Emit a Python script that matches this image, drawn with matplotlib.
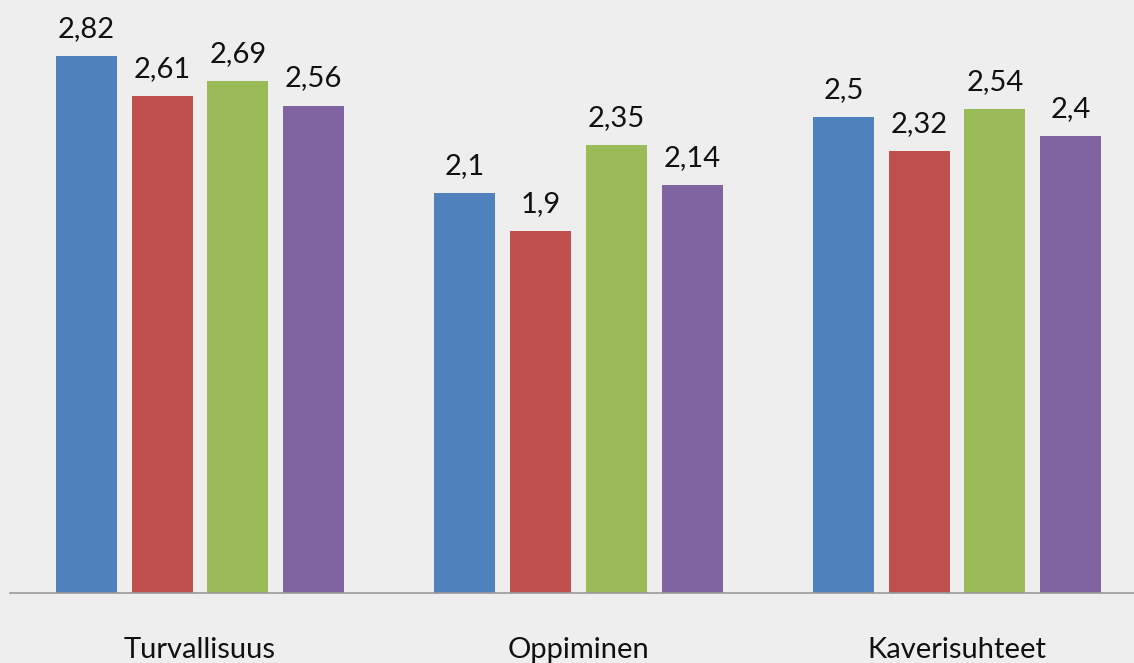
import matplotlib
matplotlib.use("Agg")
import matplotlib.pyplot as plt
import numpy as np

categories = ["Turvallisuus", "Oppiminen", "Kaverisuhteet"]
series_blue = [2.82, 2.10, 2.50]
series_red = [2.61, 1.90, 2.32]
series_green = [2.69, 2.35, 2.54]
series_purple = [2.56, 2.14, 2.40]

series = [series_blue, series_red, series_green, series_purple]
colors = ["#4F81BD", "#C0504D", "#9BBB59", "#8064A2"]
offsets = [-0.3, -0.1, 0.1, 0.3]
bar_width = 0.161

W, H = 1134, 663
fig = plt.figure(figsize=(W / 100, H / 100), dpi=100)
bg = "#EEEEEE"
fig.patch.set_facecolor(bg)

left_px, right_px = 10, 1134
base_px = 593  # from top
ax = fig.add_axes([left_px / W, (H - base_px) / H, (right_px - left_px) / W, base_px / H])
ax.set_facecolor(bg)

px_per_unit_x = 378.5
x0 = 200
ax.set_xlim((left_px - x0) / px_per_unit_x, (right_px - x0) / px_per_unit_x)
px_per_unit_y = 537 / 2.82
ax.set_ylim(0, base_px / px_per_unit_y)

font = "Lato"
x = np.arange(len(categories))
for vals, col, off in zip(series, colors, offsets):
    bars = ax.bar(x + off, vals, width=bar_width, color=col, zorder=2)
    for xi, v in zip(x + off, vals):
        lab = f"{v:.2f}".rstrip("0").rstrip(".").replace(".", ",")
        ax.annotate(lab, xy=(xi, v), xytext=(0, 13.7), textcoords="offset points",
                    ha="center", va="baseline", fontsize=21, family=font, color="#111111")

for xi, c in zip(x, categories):
    ax.annotate(c, xy=(xi, 0), xycoords=("data", "axes fraction"), xytext=(0, -46.8),
                textcoords="offset points", ha="center", va="baseline",
                fontsize=21, family=font, color="#111111", annotation_clip=False)

for s in ["top", "left", "right"]:
    ax.spines[s].set_visible(False)
ax.spines["bottom"].set_color("#999999")
ax.spines["bottom"].set_linewidth(1.2)
ax.set_xticks([])
ax.set_yticks([])

fig.savefig("out.png", dpi=100, facecolor=bg)
